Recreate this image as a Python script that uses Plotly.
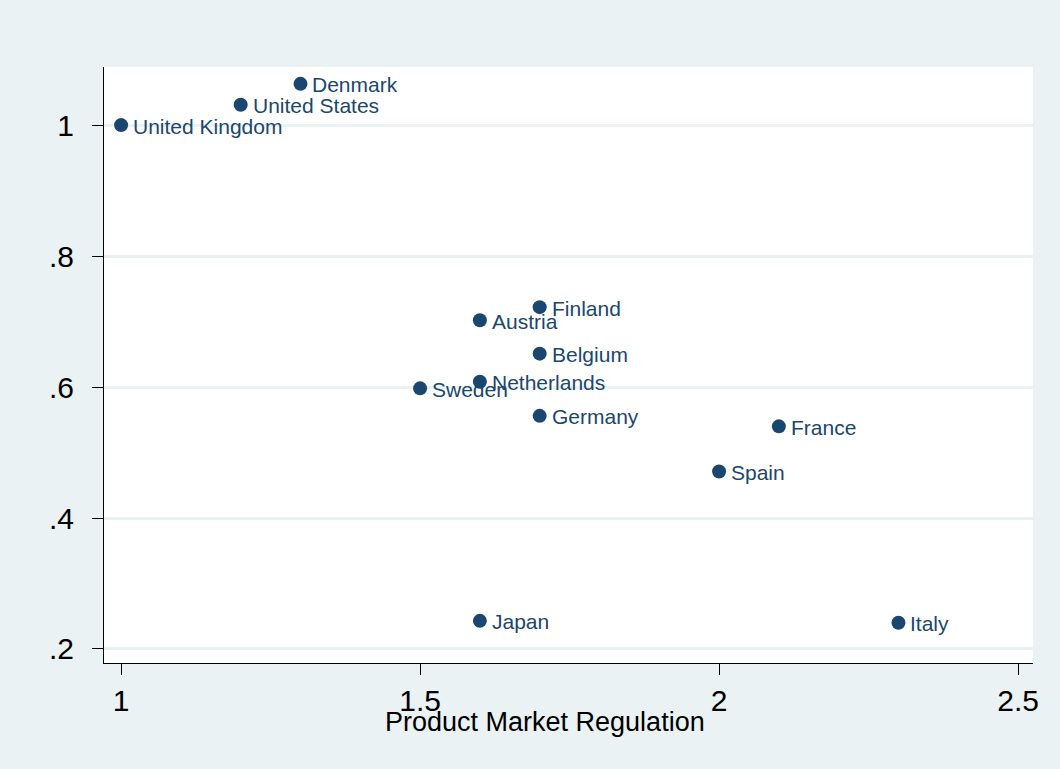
import plotly.graph_objects as go

countries = ["United Kingdom", "United States", "Denmark", "Finland", "Austria", "Belgium",
             "Netherlands", "Sweden", "Germany", "France", "Spain", "Japan", "Italy"]
pmr = [1.0, 1.2, 1.3, 1.7, 1.6, 1.7, 1.6, 1.5, 1.7, 2.1, 2.0, 1.6, 2.3]
yvals = [1.0, 1.031, 1.063, 0.722, 0.702, 0.651, 0.608, 0.598, 0.556, 0.540, 0.471, 0.243, 0.240]

x_ticks = [1, 1.5, 2, 2.5]
x_ticklabels = ["1", "1.5", "2", "2.5"]
y_ticks = [0.2, 0.4, 0.6, 0.8, 1.0]
y_ticklabels = [".2", ".4", ".6", ".8", "1"]

NAVY = "#1a476f"
BG = "#eaf2f3"
FONT = "Liberation Sans, Arial, Helvetica, sans-serif"

fig = go.Figure()
fig.add_trace(go.Scatter(
    x=pmr, y=yvals, mode="markers",
    marker=dict(color=NAVY, size=14, line=dict(width=0)),
    showlegend=False, hoverinfo="skip",
))

for c, xv, yv in zip(countries, pmr, yvals):
    fig.add_annotation(x=xv, y=yv, text=c, showarrow=False, xanchor="left", yanchor="middle",
                       xshift=10, yshift=-1, font=dict(family=FONT, size=21, color=NAVY))

fig.add_annotation(x=0.475, y=0.0, xref="paper", yref="paper", yanchor="top", xanchor="center",
                   yshift=-42, text="Product Market Regulation", showarrow=False,
                   font=dict(family=FONT, size=27, color="black"))

fig.update_layout(
    width=1060, height=769, autosize=False,
    margin=dict(l=104, r=27, t=67, b=106),
    paper_bgcolor=BG, plot_bgcolor="white",
    font=dict(family=FONT, color="black"),
)
fig.update_xaxes(
    range=[0.9714, 2.525], tickvals=x_ticks, ticktext=x_ticklabels,
    ticks="outside", ticklen=11, tickwidth=1, tickcolor="black",
    showline=True, linecolor="black", linewidth=1, showgrid=False, zeroline=False,
    tickfont=dict(family=FONT, size=30, color="black"),
)
fig.update_yaxes(
    range=[0.1786, 1.0887], tickvals=y_ticks, ticktext=y_ticklabels,
    ticks="outside", ticklen=11, tickwidth=1, tickcolor="black",
    showline=True, linecolor="black", linewidth=1,
    showgrid=True, gridcolor=BG, gridwidth=2.5, zeroline=False,
    tickfont=dict(family=FONT, size=30, color="black"), ticklabelstandoff=12,
)

fig.write_html("out.html", config={"displayModeBar": False},
               post_script="document.body.style.margin='0';")
